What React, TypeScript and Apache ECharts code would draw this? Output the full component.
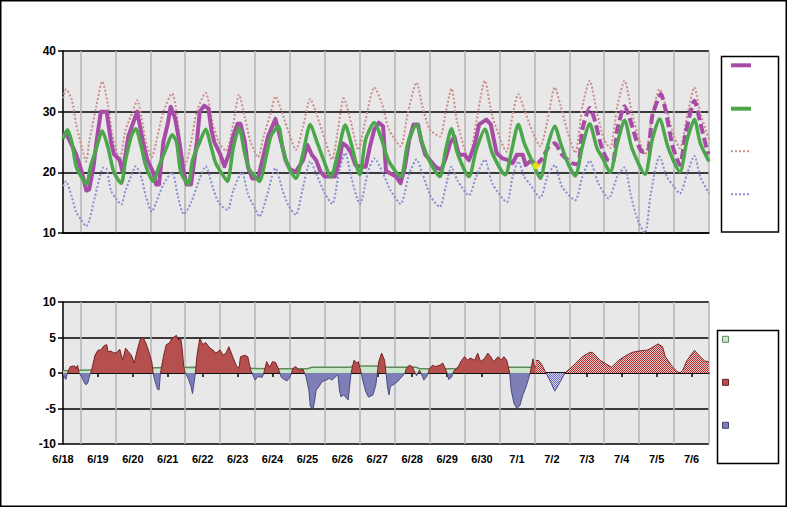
import React, { useEffect, useRef } from 'react';
import * as echarts from 'echarts';

// ---- axis / category data ----
const dayLabels = ['6/18','6/19','6/20','6/21','6/22','6/23','6/24','6/25','6/26','6/27','6/28','6/29','6/30','7/1','7/2','7/3','7/4','7/5','7/6'];
const totalHours = 444; // 6/18 00h .. 7/6 12h
const tempTicks = { min: 10, max: 40, step: 10 };
const depTicks = { min: -10, max: 10, step: 5 };

// ---- top chart series: [hour since 6/18 00h, °C] ----
const observedTemp: [number, number][] = [
  [0,26],[2,26.5],[9,23],[13,20],[15,18],[16,17],[18,17.2],[21,21],[23,25],[26,30],[30,30],[33,25],[35,23],[39,22],[41,20],
  [45,26],[48,28],[51,30],[55,25],[58,22],[62,20],[64,18],[66,18],[69,25],[72,28],[74,30.8],[77,29],[80,25],[83,20],[85,18],
  [88,18],[92,25],[94,30],[97,31],[100,30.5],[102,27],[104,25],[108,23],[111,21],[114,23],[117,26],[120,28],[122,28],[125,25],
  [127,21],[130,19],[134,19],[137,22],[141,26],[146,28.8],[150,25],[153,22],[156,20.5],[160,20.1],[165,22],[168,24.5],[171,22.9],
  [174,22],[177,20.1],[180,19.3],[187,19.3],[190,22],[192,24.8],[195,24.3],[198,23.2],[201,21.2],[205,20.9],[208,20.9],[211,24.3],
  [214,27.1],[217,28.2],[220,27.6],[222,20.2],[225,19.8],[229,19.3],[232,18.2],[235,20.9],[238,25.4],[241,27.9],[244,27.9],
  [246,25.4],[249,22.9],[253,21.8],[256,20.9],[260,20.4],[263,22.3],[266,24.8],[269,25.9],[272,22.9],[276,22.9],[279,22],
  [283,24.6],[286,27.9],[291,28.7],[294,27.9],[298,23.2],[302,22.3],[306,22],[309,21.5],[312,22.9],[316,22.9],[318,21.2],
  [322,22],[325,21.1]
];
const forecastTemp: [number, number][] = [
  [325,21.1],[330,22.5],[334,24.3],[338,24.8],[343,22.9],[350,21.5],[354,21.3],[357,27.1],[362,30.6],[365,29],[370,24.3],
  [374,22.1],[378,21.8],[381,27.1],[386,30.9],[389,29.3],[394,25.4],[398,23.4],[402,23.4],[405,29.3],[411,32.9],[414,30.4],
  [419,24.3],[424,21.2],[428,26.5],[434,31.8],[438,28.2],[443,23.4],[444,23]
];
const latestObs: [number, number][] = [[325, 21.1]];
const normalTemp: [number, number][] = [
  [0,25.5],[3,27],[6,25],[9,21],[12,19.5],[16,18],[19,21],[23,24],[27,26.8],[31,24],[35,20],[40,18.2],[43,22],[47,26],[50,27.2],
  [54,24],[57,21],[62,18.5],[66,21],[71,24],[75,26.2],[78,25],[81,20],[86,18],[89,22],[94,25],[98,27.1],[102,24],[105,21.5],
  [110,19.5],[113,18.5],[117,24],[121,27.3],[125,23],[128,20.5],[133,19],[135,18.5],[140,23],[143,26],[148,27.6],[151,24],
  [154,21.5],[157,20],[160,19],[165,23.2],[170,27.9],[174,25.4],[179,22.1],[184,19.3],[189,23.2],[194,27.8],[198,24.8],[204,19.6],
  [208,25.4],[214,28.2],[219,25.4],[224,21.8],[232,19.3],[237,24.8],[243,27.9],[247,24.8],[252,21.8],[259,19.3],[263,23.7],
  [267,27.2],[271,23.2],[279,19.3],[284,23.7],[290,27.1],[295,23.2],[304,19.6],[308,23.2],[313,27.9],[317,24.8],[323,21.5],
  [328,19],[333,24.3],[338,27.6],[342,24.8],[347,21.5],[352,19.4],[357,24.3],[362,28],[367,24],[371,22.3],[376,20],[381,24.8],
  [386,28.6],[391,24],[400,19.7],[405,25.4],[410,28.8],[416,24],[424,20.1],[429,25.4],[434,28.7],[438,24.8],[444,21.8]
];
const upperTemp: [number, number][] = [
  [0,32.2],[2,33.7],[6,32],[9,28],[13,24],[16,21.8],[18,25],[23,31],[27,35],[31,31],[34,26],[39,22.2],[43,27],[48,30],[51,31.9],
  [54,29],[57,25],[61,22.5],[64,25],[69,30],[75,33],[78,30],[81,24],[84,21.2],[88,25],[92,30],[98,33.1],[103,28],[107,25],
  [112,23.5],[117,28],[121,32.8],[125,29],[129,25],[134,22.5],[138,26],[143,30],[146,32.5],[151,29.5],[156,26],[160,23.7],
  [165,27.6],[170,32.1],[174,29.8],[180,25.4],[185,22.1],[189,27.1],[193,32.2],[198,28.2],[203,23.7],[208,28.7],[214,34],
  [219,31.5],[224,27.1],[232,24.3],[237,29.8],[243,34.8],[247,30.9],[252,27.1],[259,25.9],[263,29.8],[267,33.8],[271,28.2],
  [279,22.3],[284,28.2],[290,35.1],[295,29.3],[305,23.4],[308,28.2],[313,32.9],[317,30.4],[323,26.5],[328,24.3],[333,28.5],
  [338,34],[342,31],[347,26.5],[352,23.2],[357,30.9],[362,35.1],[367,29.8],[372,25.4],[376,24],[381,30.9],[386,35.1],[391,29.8],
  [396,25.4],[400,22.9],[405,29.3],[410,33.7],[416,29.3],[420,25.9],[424,24],[429,29.3],[434,34],[438,29.8],[444,25.4]
];
const lowerTemp: [number, number][] = [
  [0,17.7],[2,18.5],[6,16],[9,13.5],[13,12],[16,11.1],[18,12],[22,16],[28,20.8],[30,20.5],[33,17],[37,15.5],[40,14.7],[43,17],
  [47,19.5],[50,21],[54,19],[57,16],[61,13.5],[64,15],[69,18],[75,20],[79,16],[83,13.1],[88,15],[94,19],[98,21],[103,17.5],
  [107,15],[113,13.8],[117,17],[123,20],[127,16.5],[132,14],[135,12.7],[140,16],[146,20.7],[151,17],[155,14.5],[160,13],
  [165,17.6],[170,21.8],[174,19.8],[180,16.5],[185,14.8],[190,20.4],[194,23.2],[198,19.3],[204,14.8],[210,20.4],[214,22.3],
  [220,19.8],[225,17.1],[232,14.8],[238,19.8],[243,22.1],[247,19.8],[253,15.9],[259,14.3],[263,17.6],[267,20.9],[271,18.7],
  [279,16.2],[284,19.3],[290,22.1],[295,18.2],[305,15.1],[309,19.3],[313,21.8],[317,19.3],[321,18],[328,15.8],[333,19.3],
  [338,21.2],[343,17.6],[352,15.4],[357,19.3],[362,21.9],[368,18.2],[375,15.7],[381,19.3],[386,20.8],[390,16.5],[395,12.1],
  [400,10],[404,16.5],[410,22.6],[415,19.3],[420,17.6],[424,16.5],[429,19.8],[434,22.7],[438,19.3],[444,16.5]
];

// ---- bottom chart series: departures ----
const biasLevel: [number, number][] = [
  [0,0.33],[24,0.45],[48,0.6],[64,0.75],[94,0.8],[117,0.7],[140,0.6],[168,0.6],[171,0.8],[198,0.8],[199,1.0],[217,1.0],
  [219,0.8],[243,0.8],[245,0.6],[270,0.6],[272,0.8],[325,0.8]
];
const observedDeparture: [number, number][] = [
  [0,-0.3],[2,-0.9],[3,0],[5,0.9],[8,1.0],[9,0.6],[10,1.1],[11,0],[13,-0.6],[15,-1.5],[16,-1.65],[17,-1.4],[18,-0.6],[19,0],
  [20,0.7],[22,2.5],[24,3.2],[26,3.25],[28,3.8],[30,4.0],[31,3.0],[33,3.1],[35,2.8],[37,2.9],[39,3.35],[41,1.8],[43,3.5],
  [45,3.0],[47,2.5],[49,1.4],[51,3.2],[53,4.7],[55,5.0],[57,4.2],[59,3.0],[61,1.6],[62,0],[63,-1.0],[65,-2.3],[66,-2.4],
  [67,0],[69,2.3],[71,4.0],[73,4.2],[75,4.9],[78,5.3],[79,4.7],[81,4.8],[82,3.25],[83,0.9],[84,0],[86,-0.75],[88,-1.9],
  [89,-2.9],[90,-1.5],[91,0],[92,2.3],[94,4.9],[96,4.0],[98,4.3],[101,3.5],[103,3.25],[105,2.8],[108,3.25],[110,2.5],[112,2.8],
  [114,3.7],[117,2.1],[119,1.1],[121,0.65],[122,2.3],[125,2.5],[127,2.3],[129,0.4],[130,0],[132,-1.0],[134,-0.5],[137,-0.6],
  [138,0],[140,1.6],[142,0.8],[144,1.6],[146,1.5],[148,0.65],[149,0],[150,-0.6],[152,-0.9],[154,-1.1],[156,-0.6],[157,0],
  [158,0.65],[160,0.9],[162,0.4],[165,0.5],[166,0],[167,-0.5],[169,-2.4],[170,-4.75],[172,-5.0],[173,-3.8],[174,-2.4],
  [176,-1.9],[178,-1.2],[181,-1.0],[183,-0.75],[185,-1.0],[188,-0.4],[189,-0.3],[190,-2.4],[191,-3.35],[193,-3.1],[196,-3.8],
  [197,-1.9],[198,0],[199,0.9],[200,1.8],[202,1.4],[203,1.6],[205,0],[206,-1.0],[208,-2.6],[210,-3.4],[213,-3.1],[215,-1.7],
  [216,0],[217,1.6],[219,2.8],[220,2.3],[221,1.8],[222,0],[223,-1.9],[224,-3.1],[225,-1.9],[228,-1.5],[230,-1.2],[232,-0.75],
  [235,0],[236,0.65],[238,1.1],[240,0.9],[242,0],[243,-0.4],[244,0],[245,0.4],[246,0],[247,-0.5],[248,-1.0],[250,-0.5],[251,0],
  [252,0.65],[254,1.1],[256,0.9],[259,1.1],[261,1.4],[263,0.5],[264,0],[265,-0.9],[267,-0.6],[268,0],[269,0.4],[271,0.65],
  [274,1.8],[276,2.3],[278,1.8],[280,2.1],[283,1.8],[285,2.8],[287,1.6],[290,2.1],[292,2.8],[294,2.3],[296,1.6],[299,2.3],
  [301,1.8],[303,2.3],[305,1.8],[307,0],[308,-2.4],[310,-4.3],[312,-5.0],[314,-4.6],[316,-3.1],[318,-2.1],[320,-0.8],[321,0],
  [322,0.9],[323,2.0],[324,0.9],[325,0.9]
];
const forecastDeparture: [number, number][] = [
  [325,1.75],[327,1.75],[329,1.2],[332,0],[335,-1.2],[338,-2.55],[341,-1.5],[345,0],[350,0.9],[357,2.3],[362,2.9],[364,2.9],
  [369,1.8],[373,1.3],[377,0.8],[382,1.8],[387,2.45],[391,2.9],[396,3.1],[402,3.25],[405,3.6],[409,4.1],[412,3.7],[414,2.3],
  [418,1.1],[422,0.2],[424,0],[426,0.4],[429,1.8],[434,3.2],[437,2.5],[441,1.7],[444,1.55]
];

const categories = Array.from({ length: totalHours + 1 }, (_, i) => String(i));
const positivePart = (d: [number, number][]) => d.map(([h, v]) => [h, v >= 0 ? v : null]);
const negativePart = (d: [number, number][]) => d.map(([h, v]) => [h, v <= 0 ? v : null]);

function hatch(color: string, light: string): string {
  const c = document.createElement('canvas');
  c.width = 4; c.height = 4;
  const ctx = c.getContext('2d')!;
  ctx.fillStyle = light;
  ctx.fillRect(0, 0, 4, 4);
  ctx.fillStyle = color;
  for (let y = 0; y < 4; y++) for (let x = 0; x < 4; x++) if ((x + y) % 2 === 0) ctx.fillRect(x, y, 1, 1);
  return c.toDataURL();
}

const FONT = '"Liberation Sans", Arial, sans-serif';

export default function App() {
  const ref = useRef<HTMLDivElement>(null);
  useEffect(() => {
    const chart = echarts.init(ref.current!, null, { renderer: 'svg' });
    const redHatch = hatch('#B03030', '#EEC8C8');
    const blueHatch = hatch('#6A6AC0', '#D8D8F0');
    const lineBase = { type: 'line', symbol: 'none', showSymbol: false, silent: true };
    const yLabel = { color: '#000', fontFamily: FONT, fontWeight: 'bold', fontSize: 12, margin: 7 };
    const option: any = {
      animation: false,
      backgroundColor: '#FFFFFF',
      grid: [
        { left: 63, top: 51, width: 646, height: 182, show: true, backgroundColor: '#E8E8E8', borderWidth: 0 },
        { left: 63, top: 302, width: 646, height: 142, show: true, backgroundColor: '#E8E8E8', borderWidth: 0 },
      ],
      xAxis: [0, 1].map((g) => ({
        type: 'category',
        gridIndex: g,
        data: categories,
        boundaryGap: false,
        axisLine: { show: true, lineStyle: { color: '#000', width: 1.5 } },
        axisTick: g === 1
          ? { show: true, interval: (i: number) => i % 24 === 0, length: 4, lineStyle: { color: '#000', width: 1.5 } }
          : { show: false },
        axisLabel: g === 1
          ? {
              show: true,
              interval: (i: number) => i % 24 === 0,
              formatter: (v: string) => dayLabels[Number(v) / 24] ?? '',
              color: '#000', fontFamily: FONT, fontWeight: 'bold', fontSize: 11, margin: 9,
            }
          : { show: false },
        splitLine: { show: true, interval: (i: number) => i % 24 === 12, lineStyle: { color: '#B4B4B4', width: 1.5 } },
      })),
      yAxis: [
        {
          type: 'value', gridIndex: 0, min: tempTicks.min, max: tempTicks.max, interval: tempTicks.step,
          axisLine: { show: true, lineStyle: { color: '#000', width: 1.5 } },
          axisTick: { show: true, length: 5, lineStyle: { color: '#000', width: 1.5 } },
          axisLabel: yLabel,
          splitLine: { show: true, lineStyle: { color: '#000', width: 1.5 } },
        },
        {
          type: 'value', gridIndex: 1, min: depTicks.min, max: depTicks.max, interval: depTicks.step,
          axisLine: { show: true, lineStyle: { color: '#000', width: 1.5 } },
          axisTick: { show: true, length: 5, lineStyle: { color: '#000', width: 1.5 } },
          axisLabel: yLabel,
          splitLine: { show: true, lineStyle: { color: '#000', width: 1.5 } },
        },
      ],
      series: [
        { ...lineBase, name: 'upper', xAxisIndex: 0, yAxisIndex: 0, data: upperTemp, smooth: 0.25, z: 2,
          lineStyle: { color: '#CC8C8C', width: 2, type: [2, 2] } },
        { ...lineBase, name: 'lower', xAxisIndex: 0, yAxisIndex: 0, data: lowerTemp, smooth: 0.25, z: 2,
          lineStyle: { color: '#8C8CD0', width: 2, type: [2, 2] } },
        { ...lineBase, name: 'observed', xAxisIndex: 0, yAxisIndex: 0, data: observedTemp, z: 3,
          lineStyle: { color: '#A64CA6', width: 4, join: 'round' } },
        { ...lineBase, name: 'forecast', xAxisIndex: 0, yAxisIndex: 0, data: forecastTemp, smooth: 0.2, z: 3,
          lineStyle: { color: '#A64CA6', width: 4, type: [10, 4] } },
        { ...lineBase, name: 'normal', xAxisIndex: 0, yAxisIndex: 0, data: normalTemp, smooth: 0.25, z: 4,
          lineStyle: { color: '#4CA64C', width: 3.5, join: 'round' } },
        { type: 'scatter', name: 'latest', xAxisIndex: 0, yAxisIndex: 0, data: latestObs, symbolSize: 7, z: 5, silent: true,
          itemStyle: { color: '#FFF000' } },
        { ...lineBase, name: 'bias', xAxisIndex: 1, yAxisIndex: 1, data: biasLevel, z: 2,
          lineStyle: { color: '#5E8A5E', width: 1.5 }, areaStyle: { color: '#C8E6C8', opacity: 1 } },
        { ...lineBase, name: 'warm', xAxisIndex: 1, yAxisIndex: 1, data: positivePart(observedDeparture), z: 3,
          lineStyle: { color: '#7A2222', width: 1 }, areaStyle: { color: '#B5504F', opacity: 1 } },
        { ...lineBase, name: 'cool', xAxisIndex: 1, yAxisIndex: 1, data: negativePart(observedDeparture), z: 3,
          lineStyle: { color: '#4A4A86', width: 1 }, areaStyle: { color: '#7F7FB8', opacity: 1 } },
        { ...lineBase, name: 'warmFc', xAxisIndex: 1, yAxisIndex: 1, data: positivePart(forecastDeparture), z: 3,
          lineStyle: { color: '#7A2222', width: 1 },
          areaStyle: { color: { image: redHatch, repeat: 'repeat', imageWidth: 4, imageHeight: 4 }, opacity: 1 } },
        { ...lineBase, name: 'coolFc', xAxisIndex: 1, yAxisIndex: 1, data: negativePart(forecastDeparture), z: 3,
          lineStyle: { color: '#4A4A86', width: 1 },
          areaStyle: { color: { image: blueHatch, repeat: 'repeat', imageWidth: 4, imageHeight: 4 }, opacity: 1 } },
      ],
      graphic: [
        { type: 'rect', silent: true, z: 100, shape: { x: 0.75, y: 0.75, width: 785.5, height: 505.5 },
          style: { fill: 'none', stroke: '#000', lineWidth: 1.5 } },
        { type: 'rect', silent: true, shape: { x: 721.5, y: 56.5, width: 57, height: 175.5 },
          style: { fill: '#fff', stroke: '#000', lineWidth: 1.5 } },
        { type: 'line', silent: true, shape: { x1: 731, y1: 65.3, x2: 751, y2: 65.3 }, style: { stroke: '#A64CA6', lineWidth: 4 } },
        { type: 'line', silent: true, shape: { x1: 731, y1: 108.7, x2: 751, y2: 108.7 }, style: { stroke: '#4CA64C', lineWidth: 4 } },
        { type: 'line', silent: true, shape: { x1: 731, y1: 151.3, x2: 751, y2: 151.3 }, style: { stroke: '#CC8C8C', lineWidth: 2, lineDash: [2, 2] } },
        { type: 'line', silent: true, shape: { x1: 731, y1: 194.3, x2: 751, y2: 194.3 }, style: { stroke: '#8C8CD0', lineWidth: 2, lineDash: [2, 2] } },
        { type: 'rect', silent: true, shape: { x: 717.5, y: 330.5, width: 61, height: 133 },
          style: { fill: '#fff', stroke: '#000', lineWidth: 1.5 } },
        { type: 'rect', silent: true, shape: { x: 722.5, y: 336.3, width: 6, height: 6 }, style: { fill: '#C8E6C8', stroke: '#5E8A5E', lineWidth: 1 } },
        { type: 'rect', silent: true, shape: { x: 722.5, y: 379.3, width: 6, height: 6 }, style: { fill: '#B5504F', stroke: '#6A2020', lineWidth: 1 } },
        { type: 'rect', silent: true, shape: { x: 722.5, y: 422.3, width: 6, height: 6 }, style: { fill: '#7F7FB8', stroke: '#404070', lineWidth: 1 } },
      ],
    };
    chart.setOption(option);
    return () => chart.dispose();
  }, []);
  return <div ref={ref} style={{ position: 'fixed', left: 0, top: 0, width: 787, height: 507, background: '#fff' }} />;
}
